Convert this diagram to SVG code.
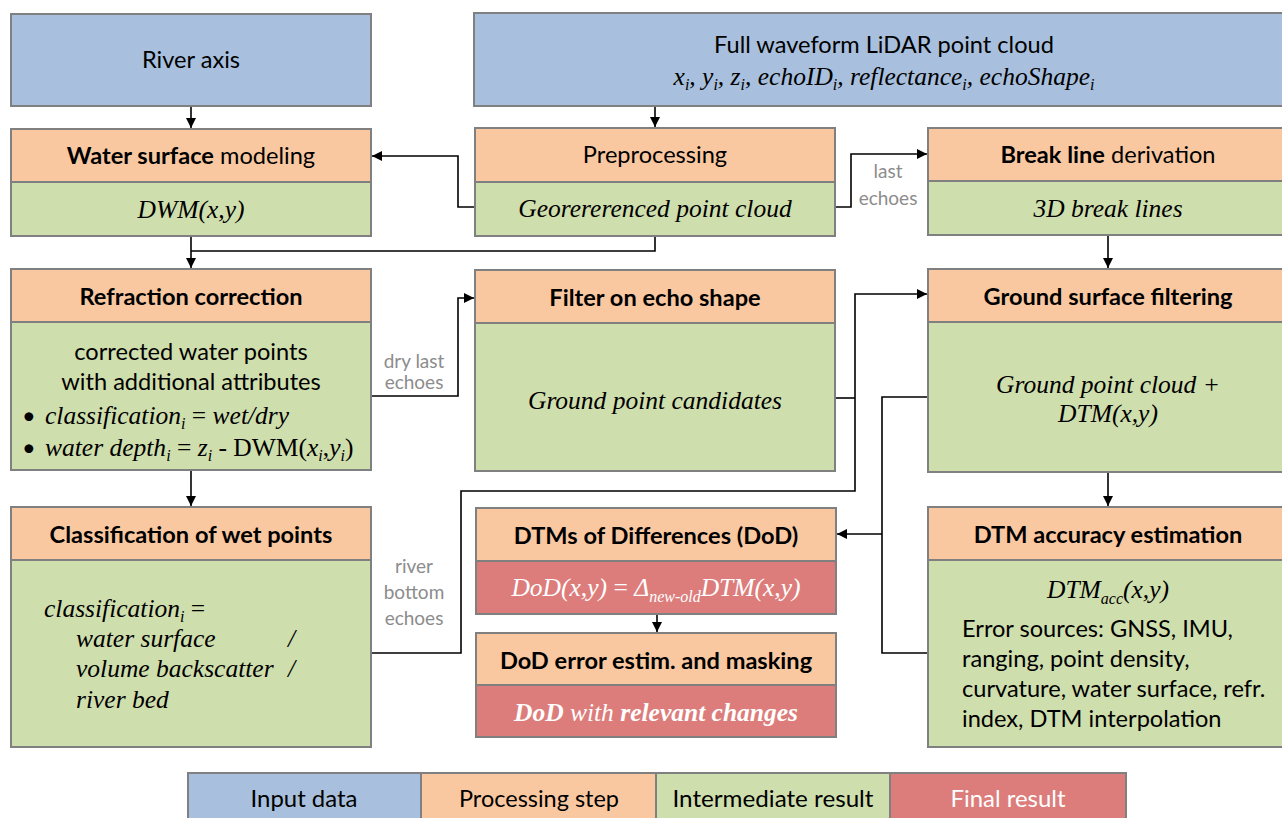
<svg xmlns="http://www.w3.org/2000/svg" width="1282" height="818" viewBox="0 0 1282 818">
  <defs>
    <marker id="arrow" viewBox="0 0 10 10" refX="10" refY="5" markerWidth="10" markerHeight="10" markerUnits="userSpaceOnUse" orient="auto">
      <path d="M0,0 L10,5 L0,10 z" fill="#000"/>
    </marker>
    <style>
      .box { stroke: #808080; stroke-width: 2; }
      .input { fill: #A8C0DE; }
      .step { fill: #FAC8A0; }
      .inter { fill: #CFDEAD; }
      .final { fill: #DC7D7C; }
      .sans { font-family: "Lato", "Liberation Sans", sans-serif; font-size: 23.6px; fill: #000; }
      .bold { font-weight: bold; }
      .serif { font-family: "Liberation Serif", "DejaVu Serif", serif; font-style: italic; font-size: 25.5px; fill: #000; }
      .up { font-style: normal; }
      .mid { text-anchor: middle; }
      .white { fill: #fff; }
      .note { font-family: "Lato", "Liberation Sans", sans-serif; font-size: 19px; fill: #8C8C8C; text-anchor: middle; }
      .conn { fill: none; stroke: #000; stroke-width: 1.6; }
    </style>
  </defs>

  <!-- connectors -->
  <g id="connectors">
    <path class="conn" d="M191,106 V128" marker-end="url(#arrow)"/>
    <path class="conn" d="M655,106 V127" marker-end="url(#arrow)"/>
    <path class="conn" d="M475,207 H458 V156 H372" marker-end="url(#arrow)"/>
    <path class="conn" d="M835,207 H851 V154 H927" marker-end="url(#arrow)"/>
    <path class="conn" d="M655,236 V251 H191"/>
    <path class="conn" d="M191,236 V268" marker-end="url(#arrow)"/>
    <path class="conn" d="M1108,235 V268" marker-end="url(#arrow)"/>
    <path class="conn" d="M371,396 H458 V298 H474" marker-end="url(#arrow)"/>
    <path class="conn" d="M371,653 H461 V491 H855 V294 H927" marker-end="url(#arrow)"/>
    <path class="conn" d="M835,398 H855"/>
    <path class="conn" d="M928,397 H882 V653 H928"/>
    <path class="conn" d="M882,534 H837" marker-end="url(#arrow)"/>
    <path class="conn" d="M1108,472 V506" marker-end="url(#arrow)"/>
    <path class="conn" d="M191,470 V506" marker-end="url(#arrow)"/>
    <path class="conn" d="M657,614 V632" marker-end="url(#arrow)"/>
    <text class="note" x="888" y="178">last</text>
    <text class="note" x="888" y="205">echoes</text>
    <text class="note" x="414" y="368">dry last</text>
    <text class="note" x="414" y="389">echoes</text>
    <text class="note" x="414" y="573">river</text>
    <text class="note" x="414" y="599">bottom</text>
    <text class="note" x="414" y="625">echoes</text>
  </g>

  <!-- input data -->
  <g id="river-axis">
    <rect class="box input" x="11" y="14" width="360" height="92"/>
    <text class="sans mid" x="191" y="68">River axis</text>
  </g>
  <g id="lidar-point-cloud">
    <rect class="box input" x="474" y="13" width="822" height="93"/>
    <text class="sans mid" x="884" y="53">Full waveform LiDAR point cloud</text>
    <text class="serif mid" x="884" y="85">x<tspan font-size="16" dy="5">i</tspan><tspan dy="-5">, y</tspan><tspan font-size="16" dy="5">i</tspan><tspan dy="-5">, z</tspan><tspan font-size="16" dy="5">i</tspan><tspan dy="-5">, echoID</tspan><tspan font-size="16" dy="5">i</tspan><tspan dy="-5">, reflectance</tspan><tspan font-size="16" dy="5">i</tspan><tspan dy="-5">, echoShape</tspan><tspan font-size="16" dy="5">i</tspan></text>
  </g>

  <!-- water surface -->
  <g id="water-surface-modeling">
    <rect class="box step" x="11" y="129" width="360" height="53"/>
    <rect class="box inter" x="11" y="182" width="360" height="54"/>
    <text class="sans mid" x="191" y="164"><tspan class="bold">Water surface</tspan> modeling</text>
    <text class="serif mid" x="191" y="218">DWM(x,y)</text>
  </g>

  <g id="preprocessing">
    <rect class="box step" x="475" y="128" width="360" height="54"/>
    <rect class="box inter" x="475" y="182" width="360" height="54"/>
    <text class="sans mid" x="655" y="163">Preprocessing</text>
    <text class="serif mid" x="655" y="217">Georererenced point cloud</text>
  </g>

  <g id="break-line-derivation">
    <rect class="box step" x="928" y="128" width="360" height="53"/>
    <rect class="box inter" x="928" y="181" width="360" height="54"/>
    <text class="sans mid" x="1108" y="163"><tspan class="bold">Break line</tspan> derivation</text>
    <text class="serif mid" x="1108" y="217">3D break lines</text>
  </g>

  <g id="refraction-correction">
    <rect class="box step" x="11" y="269" width="360" height="53"/>
    <rect class="box inter" x="11" y="322" width="360" height="148"/>
    <text class="sans bold mid" x="191" y="305">Refraction correction</text>
    <text class="sans mid" x="191" y="360">corrected water points</text>
    <text class="sans mid" x="191" y="390">with additional attributes</text>
    <text class="sans" x="22" y="424">•</text>
    <text class="serif" x="45" y="424">classification<tspan font-size="16" dy="5">i</tspan><tspan class="up" dy="-5"> = </tspan>wet/dry</text>
    <text class="sans" x="22" y="456">•</text>
    <text class="serif" x="45" y="456">water depth<tspan font-size="16" dy="5">i</tspan><tspan class="up" dy="-5"> = </tspan>z<tspan font-size="16" dy="5">i</tspan><tspan class="up" dy="-5"> - DWM(</tspan>x<tspan font-size="16" dy="5">i</tspan><tspan class="up" dy="-5">,</tspan>y<tspan font-size="16" dy="5">i</tspan><tspan class="up" dy="-5">)</tspan></text>
  </g>

  <g id="filter-echo-shape">
    <rect class="box step" x="475" y="270" width="360" height="53"/>
    <rect class="box inter" x="475" y="323" width="360" height="148"/>
    <text class="sans bold mid" x="655" y="306">Filter on echo shape</text>
    <text class="serif mid" x="655" y="409">Ground point candidates</text>
  </g>

  <g id="ground-surface-filtering">
    <rect class="box step" x="928" y="269" width="360" height="53"/>
    <rect class="box inter" x="928" y="322" width="360" height="150"/>
    <text class="sans bold mid" x="1108" y="305">Ground surface filtering</text>
    <text class="serif mid" x="1108" y="393">Ground point cloud +</text>
    <text class="serif mid" x="1108" y="422">DTM(x,y)</text>
  </g>

  <g id="classification-wet-points">
    <rect class="box step" x="11" y="507" width="360" height="53"/>
    <rect class="box inter" x="11" y="560" width="360" height="187"/>
    <text class="sans bold mid" x="191" y="543">Classification of wet points</text>
    <text class="serif" x="44" y="617">classification<tspan font-size="16" dy="5">i</tspan><tspan class="up" dy="-5"> =</tspan></text>
    <text class="serif" x="76" y="647">water surface</text>
    <text class="serif" x="288" y="647">/</text>
    <text class="serif" x="76" y="677">volume backscatter</text>
    <text class="serif" x="288" y="677">/</text>
    <text class="serif" x="76" y="708">river bed</text>
  </g>

  <g id="dod">
    <rect class="box step" x="476" y="508" width="360" height="53"/>
    <rect class="box final" x="476" y="561" width="360" height="53"/>
    <text class="sans bold mid" x="656" y="544">DTMs of Differences (DoD)</text>
    <text class="serif mid white" x="656" y="596">DoD(x,y) <tspan class="up">=</tspan> Δ<tspan font-size="16" dy="6">new-old</tspan><tspan dy="-6">DTM(x,y)</tspan></text>
  </g>

  <g id="dod-error-masking">
    <rect class="box step" x="476" y="633" width="360" height="52"/>
    <rect class="box final" x="476" y="685" width="360" height="52"/>
    <text class="sans bold mid" x="656" y="669">DoD error estim. and masking</text>
    <text class="serif mid white" x="656" y="721"><tspan font-weight="bold">DoD</tspan> with <tspan font-weight="bold">relevant changes</tspan></text>
  </g>

  <g id="dtm-accuracy">
    <rect class="box step" x="928" y="507" width="360" height="53"/>
    <rect class="box inter" x="928" y="560" width="360" height="187"/>
    <text class="sans bold mid" x="1108" y="543">DTM accuracy estimation</text>
    <text class="serif mid" x="1108" y="598">DTM<tspan font-size="16" dy="6">acc</tspan><tspan dy="-6">(x,y)</tspan></text>
    <text class="sans" x="962" y="637">Error sources: GNSS, IMU,</text>
    <text class="sans" x="962" y="667">ranging, point density,</text>
    <text class="sans" x="962" y="697">curvature, water surface, refr.</text>
    <text class="sans" x="962" y="727">index, DTM interpolation</text>
  </g>

  <!-- legend -->
  <g id="legend">
    <rect class="box input" x="188" y="773" width="233" height="50"/>
    <rect class="box step" x="421" y="773" width="235" height="50"/>
    <rect class="box inter" x="656" y="773" width="234" height="50"/>
    <rect class="box final" x="890" y="773" width="236" height="50"/>
    <text class="sans mid" x="304" y="807" textLength="107" lengthAdjust="spacingAndGlyphs">Input data</text>
    <text class="sans mid" x="539" y="807" textLength="160" lengthAdjust="spacingAndGlyphs">Processing step</text>
    <text class="sans mid" x="773" y="807" textLength="201" lengthAdjust="spacingAndGlyphs">Intermediate result</text>
    <text class="sans mid white" x="1008" y="807" textLength="115" lengthAdjust="spacingAndGlyphs">Final result</text>
  </g>
</svg>
